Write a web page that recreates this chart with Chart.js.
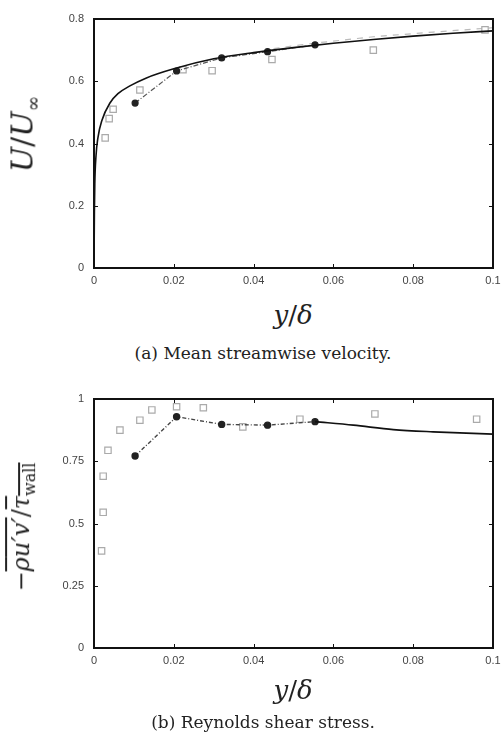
<!DOCTYPE html>
<html>
<head>
<meta charset="utf-8">
<script src="https://cdn.jsdelivr.net/npm/chart.js@4.4.1/dist/chart.umd.min.js"></script>
<style>
  html, body { margin:0; padding:0; background:#fff; }
  body { width:502px; height:738px; position:relative; overflow:hidden; }
  .cv { position:absolute; left:0; }
  .txt { position:absolute; font-family:"DejaVu Serif","Liberation Serif",serif; color:#222; white-space:nowrap; }
  .rot { transform:translate(-50%,-50%) rotate(-90deg); }
  .ctr { transform:translate(-50%,-50%); }
  .ol { text-decoration:overline; }
  i { font-style:italic; }
</style>
</head>
<body>
<canvas id="c1" class="cv" style="top:0px" width="502" height="300"></canvas>
<canvas id="c2" class="cv" style="top:380px" width="502" height="300"></canvas>

<div class="txt rot" style="left:24px;top:134px;font-size:30px"><i>U</i>/<i>U</i><sub style="font-size:19px">∞</sub></div>
<div class="txt ctr" style="left:293px;top:315px;font-size:26px"><i>y</i>/<i>δ</i></div>
<div class="txt ctr" style="left:263px;top:353px;font-size:17px">(a) Mean streamwise velocity.</div>

<div class="txt rot" style="left:23px;top:527px;font-size:24px">−<span class="ol"><i>ρ</i></span><span class="ol"><i>u′v′</i></span>/<span class="ol"><i>τ</i><sub style="font-size:16px">wall</sub></span></div>
<div class="txt ctr" style="left:293px;top:690px;font-size:26px"><i>y</i>/<i>δ</i></div>
<div class="txt ctr" style="left:263px;top:722px;font-size:17px">(b) Reynolds shear stress.</div>

<script>
// ---------- DATA ----------
const xTickLabels = ["0", "0.02", "0.04", "0.06", "0.08", "0.1"];
const yTickLabelsA = ["0", "0.2", "0.4", "0.6", "0.8"];
const yTickLabelsB = ["0", "0.25", "0.5", "0.75", "1"];

// (a) mean streamwise velocity
const curveA_x = [0, 0.0001, 0.0002, 0.0005, 0.001, 0.002, 0.004, 0.006, 0.009, 0.013, 0.02, 0.03, 0.04, 0.05, 0.06, 0.07, 0.08, 0.09, 0.1];
const curveA_y = [0, 0.18, 0.27, 0.36, 0.42, 0.475, 0.53, 0.56, 0.585, 0.61, 0.64, 0.672, 0.692, 0.708, 0.722, 0.734, 0.745, 0.754, 0.762];
const dotsA_x = [0.0103, 0.0207, 0.032, 0.0435, 0.0554];
const dotsA_y = [0.53, 0.633, 0.675, 0.695, 0.717];
const squaresA_x = [0.0028, 0.0038, 0.0048, 0.0115, 0.0223, 0.0296, 0.0446, 0.070, 0.098];
const squaresA_y = [0.418, 0.48, 0.51, 0.572, 0.637, 0.634, 0.67, 0.70, 0.765];
const dashA_x = [0.045, 0.055, 0.07, 0.085, 0.1];
const dashA_y = [0.705, 0.722, 0.743, 0.758, 0.772];

// (b) Reynolds shear stress
const curveB_x = [0.0554, 0.065, 0.075, 0.085, 0.1];
const curveB_y = [0.909, 0.895, 0.877, 0.868, 0.859];
const dotsB_x = [0.0103, 0.0207, 0.032, 0.0435, 0.0554];
const dotsB_y = [0.771, 0.929, 0.898, 0.895, 0.909];
const squaresB_x = [0.0019, 0.0023, 0.0023, 0.0035, 0.0065, 0.0115, 0.0145, 0.0207, 0.0274, 0.0373, 0.0516, 0.0704, 0.0959];
const squaresB_y = [0.39, 0.545, 0.69, 0.794, 0.875, 0.915, 0.956, 0.969, 0.965, 0.888, 0.919, 0.94, 0.919];

// ---------- helpers ----------
const pts = (xs, ys) => xs.map((x, i) => ({ x: x, y: ys[i] }));

const framePlugin = {
  id: 'frame',
  afterDraw(chart) {
    const { ctx, chartArea: a, scales } = chart;
    ctx.save();
    ctx.strokeStyle = '#111';
    ctx.lineWidth = 1;
    const tl = 4;
    scales.x.ticks.forEach(t => {
      const px = Math.round(scales.x.getPixelForValue(t.value)) + 0.5;
      ctx.beginPath();
      ctx.moveTo(px, a.bottom); ctx.lineTo(px, a.bottom - tl);
      ctx.moveTo(px, a.top); ctx.lineTo(px, a.top + tl);
      ctx.stroke();
    });
    scales.y.ticks.forEach(t => {
      const py = Math.round(scales.y.getPixelForValue(t.value)) + 0.5;
      ctx.beginPath();
      ctx.moveTo(a.left, py); ctx.lineTo(a.left + tl, py);
      ctx.moveTo(a.right, py); ctx.lineTo(a.right - tl, py);
      ctx.stroke();
    });
    ctx.lineWidth = 2;
    ctx.strokeRect(a.left, a.top, a.right - a.left, a.bottom - a.top);
    ctx.restore();
  }
};

function makeOptions(yMax, yStep, yLabels) {
  return {
    responsive: false,
    animation: false,
    layout: { padding: { left: 0, right: 9, top: 19, bottom: 0 } },
    plugins: { legend: { display: false }, tooltip: { enabled: false } },
    scales: {
      x: {
        type: 'linear', min: 0, max: 0.1,
        afterFit: s => { s.height = 32; s.paddingRight = 0; s.paddingLeft = 0; },
        grid: { display: false, drawTicks: false },
        border: { display: false },
        ticks: {
          stepSize: 0.02, padding: 6, color: '#444',
          font: { family: 'Liberation Sans, Arial, sans-serif', size: 11 },
          maxRotation: 0, autoSkip: false,
          callback: (v, i) => xTickLabels[i]
        }
      },
      y: {
        type: 'linear', min: 0, max: yMax,
        afterFit: s => { s.width = 94; s.paddingTop = 0; s.paddingBottom = 0; },
        grid: { display: false, drawTicks: false },
        border: { display: false },
        ticks: {
          stepSize: yStep, padding: 10, color: '#444',
          font: { family: 'Liberation Sans, Arial, sans-serif', size: 11 },
          autoSkip: false,
          callback: (v, i) => yLabels[i]
        }
      }
    }
  };
}

new Chart(document.getElementById('c1'), {
  type: 'scatter',
  data: {
    datasets: [
      { data: pts(dashA_x, dashA_y), showLine: true, borderColor: '#bbb', borderWidth: 1.2, borderDash: [6, 6], pointRadius: 0, order: 5 },
      { data: pts(squaresA_x, squaresA_y), showLine: false, pointStyle: 'rect', pointRadius: 4.5, borderColor: '#aaa', backgroundColor: '#fff', pointBorderWidth: 1.2, order: 4 },
      { data: pts(dotsA_x, dotsA_y), showLine: true, borderColor: '#555', borderWidth: 1.2, borderDash: [5, 2, 1, 2], pointRadius: 3, pointBackgroundColor: '#222', pointBorderColor: '#222', order: 2 },
      { data: pts(curveA_x, curveA_y), showLine: true, borderColor: '#111', borderWidth: 1.6, pointRadius: 0, cubicInterpolationMode: 'monotone', order: 1 }
    ]
  },
  options: makeOptions(0.8, 0.2, yTickLabelsA),
  plugins: [framePlugin]
});

new Chart(document.getElementById('c2'), {
  type: 'scatter',
  data: {
    datasets: [
      { data: pts(squaresB_x, squaresB_y), showLine: false, pointStyle: 'rect', pointRadius: 4.5, borderColor: '#aaa', backgroundColor: '#fff', pointBorderWidth: 1.2, order: 4 },
      { data: pts(dotsB_x, dotsB_y), showLine: true, borderColor: '#444', borderWidth: 1.4, borderDash: [4, 2, 1, 2], pointRadius: 3, pointBackgroundColor: '#222', pointBorderColor: '#222', order: 2 },
      { data: pts(curveB_x, curveB_y), showLine: true, borderColor: '#111', borderWidth: 1.6, pointRadius: 0, cubicInterpolationMode: 'monotone', order: 1 }
    ]
  },
  options: makeOptions(1, 0.25, yTickLabelsB),
  plugins: [framePlugin]
});
</script>
</body>
</html>
